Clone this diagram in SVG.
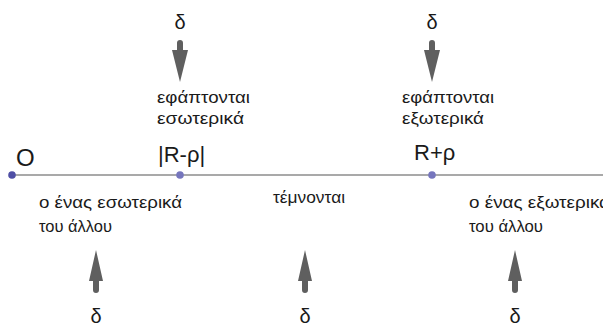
<svg xmlns="http://www.w3.org/2000/svg" width="603" height="326" viewBox="0 0 603 326">
<style>
text{fill:#1a1a1a;font-family:"Liberation Sans",Arial,sans-serif}
.lbl{font-size:17px}
.big{font-size:22px}
.d{font-size:20px;text-anchor:middle}
.arr{fill:#5f5f5f}
.pt{fill:#7676bd}
.axis{stroke:#555;stroke-width:1.2;fill:none}
</style>
<defs>
<path id="down" d="M-3,10 V3 A3,3 0 0 1 3,3 V10 H8 L0,42 L-8,10 Z"/>
<path id="up" d="M-3,31 V40 A3,3 0 0 0 3,40 V31 H7 L0,0 L-7,31 Z"/>
</defs>
<g id="connectors">
<line class="axis" x1="12" y1="175" x2="603" y2="175"/>
<use href="#down" class="arr" x="180" y="40"/>
<use href="#down" class="arr" x="432" y="40"/>
<use href="#up" class="arr" x="96" y="250"/>
<use href="#up" class="arr" x="305" y="250"/>
<use href="#up" class="arr" x="515" y="250"/>
</g>
<g id="node-O">
<circle class="pt" cx="12" cy="175" r="3.8" style="fill:#4f4fa5"/>
<text class="big" x="16" y="166" style="font-size:24px">O</text>
</g>
<g id="node-Rminus">
<circle class="pt" cx="180" cy="175" r="3.8"/>
<text class="big" x="158" y="162">|R-ρ|</text>
<text class="lbl" x="157" y="103" textLength="93" lengthAdjust="spacingAndGlyphs">εφάπτονται</text>
<text class="lbl" x="157" y="124" textLength="87" lengthAdjust="spacingAndGlyphs">εσωτερικά</text>
<text class="d" x="180" y="29">δ</text>
</g>
<g id="node-Rplus">
<circle class="pt" cx="432" cy="175" r="3.8"/>
<text class="big" x="414" y="160">R+ρ</text>
<text class="lbl" x="402" y="103" textLength="92" lengthAdjust="spacingAndGlyphs">εφάπτονται</text>
<text class="lbl" x="402" y="124" textLength="82" lengthAdjust="spacingAndGlyphs">εξωτερικά</text>
<text class="d" x="432" y="29">δ</text>
</g>
<g id="region-inside">
<text class="lbl" x="39" y="208" textLength="143" lengthAdjust="spacingAndGlyphs">ο ένας εσωτερικά</text>
<text class="lbl" x="39" y="232" textLength="73" lengthAdjust="spacingAndGlyphs">του άλλου</text>
<text class="d" x="96" y="323">δ</text>
</g>
<g id="region-intersect">
<text class="lbl" x="273" y="203" textLength="72" lengthAdjust="spacingAndGlyphs">τέμνονται</text>
<text class="d" x="305" y="323">δ</text>
</g>
<g id="region-outside">
<text class="lbl" x="469" y="208" textLength="141" lengthAdjust="spacingAndGlyphs">ο ένας εξωτερικά</text>
<text class="lbl" x="469" y="232" textLength="74" lengthAdjust="spacingAndGlyphs">του άλλου</text>
<text class="d" x="515" y="323">δ</text>
</g>
</svg>
